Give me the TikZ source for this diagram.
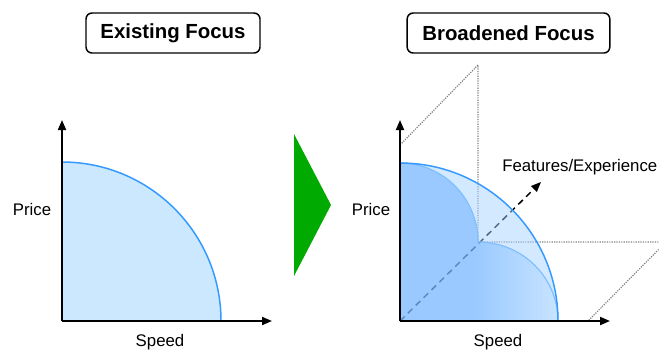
\documentclass[tikz,border=0pt]{standalone}
\usepackage{fontspec}
\setmainfont{Liberation Sans}
\usetikzlibrary{arrows.meta}

\definecolor{curveblue}{HTML}{3399FF}
\definecolor{innerblue}{HTML}{80BFFF}
\definecolor{areablue}{HTML}{CCE8FF}
\definecolor{lightblue}{HTML}{A8D3FF}
\definecolor{deepblue}{HTML}{5FAAFF}
\definecolor{paleblue}{HTML}{BDDFFF}
\definecolor{shiftgreen}{HTML}{00AA00}

\pgfdeclarehorizontalshading{frontier}{100bp}{color(0bp)=(deepblue); color(25bp)=(deepblue); color(48bp)=(deepblue); color(75bp)=(paleblue); color(100bp)=(paleblue)}

\begin{document}
\begin{tikzpicture}[
  x=0.75pt, y=-0.75pt,
  titlebox/.style={draw=black, line width=1.1pt, rounded corners=4.5pt, minimum height=30pt, font=\bfseries\fontsize{15.3}{18}\selectfont},
  axislabel/.style={font=\fontsize{12.6}{15}\selectfont, inner sep=0pt},
  axis/.style={line width=1.4pt, -{Triangle[length=7.5pt, width=6pt]}},
  curve/.style={draw=curveblue, line width=1.1pt},
  innercurve/.style={draw=innerblue, line width=0.9pt},
  guide/.style={draw=black!50, line width=0.9pt, dash pattern=on 0.9pt off 0.9pt},
  feature/.style={line width=1.1pt, dash pattern=on 4.8pt off 3.5pt, -{Triangle[length=7.5pt, width=6pt]}}
  ]
  \clip (0,0) rectangle (659,351);

  % Titles
  \node[titlebox, minimum width=130.5pt] (existing) at (173,33) {Existing Focus};
  \node[titlebox, minimum width=152pt] (broadened) at (508.5,33) {Broadened Focus};

  % Left chart: existing frontier
  \coordinate (o1) at (62,321);
  \coordinate (y1) at (62,120);
  \coordinate (x1) at (272,321);
  \coordinate (p1) at (62,162);
  \fill[areablue] (o1) -- (p1) arc[start angle=270, end angle=360, radius=159] -- cycle;
  \draw[curve] (p1) arc[start angle=270, end angle=360, radius=159];
  \draw[axis] (o1) -- (y1);
  \draw[axis] (o1) -- (x1);
  \node[axislabel] (price1) at (32,209) {Price};
  \node[axislabel] (speed1) at (160,342) {Speed};

  % Shift arrow
  \fill[shiftgreen] (294,134) -- (331,205) -- (294,276) -- cycle;

  % Right chart: broadened frontier
  \coordinate (o2) at (400,321);
  \coordinate (y2) at (400,120);
  \coordinate (x2) at (610,321);
  \coordinate (p2) at (400,163);
  \coordinate (back) at (478,242);
  \coordinate (ftip) at (541,182);
  \draw[guide] (400,145) -- (478,65) -- (back) -- (666,242) -- (588,321);
  \draw[feature] (o2) -- (ftip);
  \fill[lightblue, fill opacity=0.5] (o2) -- (p2) arc[start angle=270, end angle=360, radius=158] -- cycle;
  \shade[shading=frontier, opacity=0.5]
    (o2) -- (p2) arc[start angle=270, end angle=360, x radius=78, y radius=79]
    arc[start angle=270, end angle=360, x radius=80, y radius=79] -- cycle;
  \draw[innercurve] (p2) arc[start angle=270, end angle=360, x radius=78, y radius=79]
    arc[start angle=270, end angle=360, x radius=80, y radius=79];
  \draw[curve] (p2) arc[start angle=270, end angle=360, radius=158];
  \draw[axis] (o2) -- (y2);
  \draw[axis] (o2) -- (x2);
  \node[axislabel] (price2) at (371,209) {Price};
  \node[axislabel] (speed2) at (498,342) {Speed};
  \node[axislabel, anchor=west] (features) at (502,167) {Features/Experience};
\end{tikzpicture}
\end{document}
